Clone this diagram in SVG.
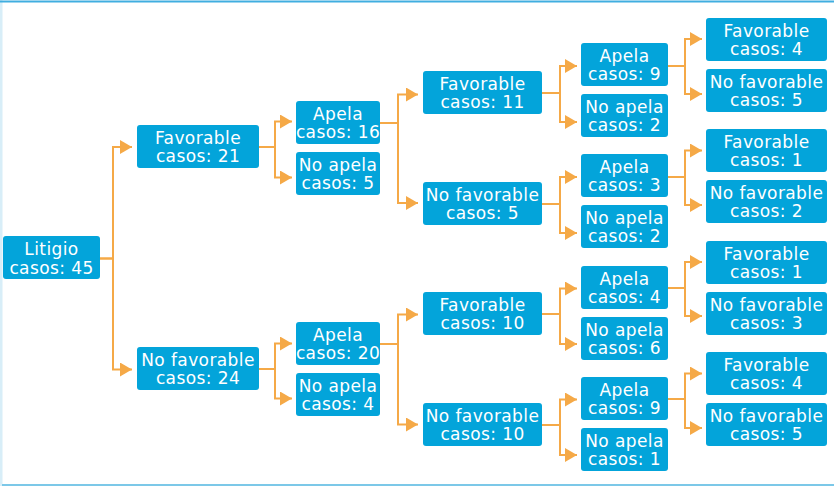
<svg xmlns="http://www.w3.org/2000/svg" width="834" height="486" viewBox="0 0 834 486">
<style>
.box{fill:#03a4da;}
.t{font-family:"DejaVu Sans",sans-serif;font-size:17px;fill:#ffffff;text-anchor:middle;letter-spacing:0.4px;}
.c{fill:none;stroke:#f5a947;stroke-width:2;marker-end:url(#ah);}
</style>
<defs>
<marker id="ah" viewBox="0 0 12 14" refX="12" refY="7" markerUnits="userSpaceOnUse" markerWidth="12" markerHeight="14" orient="auto">
<path d="M0,0 L12,7 L0,14 z" fill="#f5a947"/>
</marker>
</defs>
<rect x="0" y="0" width="834" height="486" fill="#ffffff"/>
<rect x="0" y="0" width="2.5" height="486" fill="#d8eef8"/>
<rect x="0" y="0.5" width="834" height="2" fill="#40aee0"/>
<rect x="2" y="484" width="832" height="2" fill="#7cc8e8"/>

<g id="connectors">
<path class="c" d="M100,258.5 H113 V147 H132"/>
<path class="c" d="M100,258.5 H113 V369.5 H132"/>
<path class="c" d="M259,147 H275 V121.5 H292"/>
<path class="c" d="M259,147 H275 V177.5 H292"/>
<path class="c" d="M259,369 H275 V343.5 H292"/>
<path class="c" d="M259,369 H275 V398.5 H292"/>
<path class="c" d="M380,123 H398 V94.5 H418"/>
<path class="c" d="M380,123 H398 V203 H418"/>
<path class="c" d="M380,344 H398 V314.5 H418"/>
<path class="c" d="M380,344 H398 V424.5 H418"/>
<path class="c" d="M542,93 H560 V66 H577"/>
<path class="c" d="M542,93 H560 V122 H577"/>
<path class="c" d="M542,204 H560 V177 H577"/>
<path class="c" d="M542,204 H560 V233 H577"/>
<path class="c" d="M542,314 H560 V288.5 H577"/>
<path class="c" d="M542,314 H560 V344 H577"/>
<path class="c" d="M542,425 H560 V399.5 H577"/>
<path class="c" d="M542,425 H560 V455 H577"/>
<path class="c" d="M668,66 H685 V39 H702"/>
<path class="c" d="M668,66 H685 V94 H702"/>
<path class="c" d="M668,177 H685 V150.5 H702"/>
<path class="c" d="M668,177 H685 V205 H702"/>
<path class="c" d="M668,288 H685 V262 H702"/>
<path class="c" d="M668,288 H685 V316 H702"/>
<path class="c" d="M668,399 H685 V373.5 H702"/>
<path class="c" d="M668,399 H685 V428 H702"/>
</g>

<g id="n0"><rect class="box" x="3" y="236" width="97" height="43" rx="3"/><text class="t" x="51.5" y="255">Litigio</text><text class="t" x="51.5" y="273.5">casos: 45</text></g>

<g id="n1"><rect class="box" x="137" y="125" width="122" height="43" rx="3"/><text class="t" x="198" y="143.5">Favorable</text><text class="t" x="198" y="162">casos: 21</text></g>
<g id="n2"><rect class="box" x="137" y="347" width="122" height="43" rx="3"/><text class="t" x="198" y="365.5">No favorable</text><text class="t" x="198" y="384">casos: 24</text></g>

<g id="n3"><rect class="box" x="296" y="101" width="84" height="43" rx="3"/><text class="t" x="338" y="119.5">Apela</text><text class="t" x="338" y="138">casos: 16</text></g>
<g id="n4"><rect class="box" x="296" y="152" width="84" height="43" rx="3"/><text class="t" x="338" y="170.5">No apela</text><text class="t" x="338" y="189">casos: 5</text></g>
<g id="n5"><rect class="box" x="296" y="322" width="84" height="43" rx="3"/><text class="t" x="338" y="340.5">Apela</text><text class="t" x="338" y="359">casos: 20</text></g>
<g id="n6"><rect class="box" x="296" y="373" width="84" height="43" rx="3"/><text class="t" x="338" y="391.5">No apela</text><text class="t" x="338" y="410">casos: 4</text></g>

<g id="n7"><rect class="box" x="423" y="71" width="119" height="43" rx="3"/><text class="t" x="482.5" y="89.5">Favorable</text><text class="t" x="482.5" y="108">casos: 11</text></g>
<g id="n8"><rect class="box" x="423" y="182" width="119" height="43" rx="3"/><text class="t" x="482.5" y="200.5">No favorable</text><text class="t" x="482.5" y="219">casos: 5</text></g>
<g id="n9"><rect class="box" x="423" y="292" width="119" height="43" rx="3"/><text class="t" x="482.5" y="310.5">Favorable</text><text class="t" x="482.5" y="329">casos: 10</text></g>
<g id="n10"><rect class="box" x="423" y="403" width="119" height="43" rx="3"/><text class="t" x="482.5" y="421.5">No favorable</text><text class="t" x="482.5" y="440">casos: 10</text></g>

<g id="n11"><rect class="box" x="581" y="43" width="87" height="43" rx="3"/><text class="t" x="624.5" y="61.5">Apela</text><text class="t" x="624.5" y="80">casos: 9</text></g>
<g id="n12"><rect class="box" x="581" y="94" width="87" height="43" rx="3"/><text class="t" x="624.5" y="112.5">No apela</text><text class="t" x="624.5" y="131">casos: 2</text></g>
<g id="n13"><rect class="box" x="581" y="154" width="87" height="43" rx="3"/><text class="t" x="624.5" y="172.5">Apela</text><text class="t" x="624.5" y="191">casos: 3</text></g>
<g id="n14"><rect class="box" x="581" y="205" width="87" height="43" rx="3"/><text class="t" x="624.5" y="223.5">No apela</text><text class="t" x="624.5" y="242">casos: 2</text></g>
<g id="n15"><rect class="box" x="581" y="266" width="87" height="43" rx="3"/><text class="t" x="624.5" y="284.5">Apela</text><text class="t" x="624.5" y="303">casos: 4</text></g>
<g id="n16"><rect class="box" x="581" y="317" width="87" height="43" rx="3"/><text class="t" x="624.5" y="335.5">No apela</text><text class="t" x="624.5" y="354">casos: 6</text></g>
<g id="n17"><rect class="box" x="581" y="377" width="87" height="43" rx="3"/><text class="t" x="624.5" y="395.5">Apela</text><text class="t" x="624.5" y="414">casos: 9</text></g>
<g id="n18"><rect class="box" x="581" y="428" width="87" height="43" rx="3"/><text class="t" x="624.5" y="446.5">No apela</text><text class="t" x="624.5" y="465">casos: 1</text></g>

<g id="n19"><rect class="box" x="706" y="18" width="121" height="43" rx="3"/><text class="t" x="766.5" y="36.5">Favorable</text><text class="t" x="766.5" y="55">casos: 4</text></g>
<g id="n20"><rect class="box" x="706" y="69" width="121" height="43" rx="3"/><text class="t" x="766.5" y="87.5">No favorable</text><text class="t" x="766.5" y="106">casos: 5</text></g>
<g id="n21"><rect class="box" x="706" y="129" width="121" height="43" rx="3"/><text class="t" x="766.5" y="147.5">Favorable</text><text class="t" x="766.5" y="166">casos: 1</text></g>
<g id="n22"><rect class="box" x="706" y="180" width="121" height="43" rx="3"/><text class="t" x="766.5" y="198.5">No favorable</text><text class="t" x="766.5" y="217">casos: 2</text></g>
<g id="n23"><rect class="box" x="706" y="241" width="121" height="43" rx="3"/><text class="t" x="766.5" y="259.5">Favorable</text><text class="t" x="766.5" y="278">casos: 1</text></g>
<g id="n24"><rect class="box" x="706" y="292" width="121" height="43" rx="3"/><text class="t" x="766.5" y="310.5">No favorable</text><text class="t" x="766.5" y="329">casos: 3</text></g>
<g id="n25"><rect class="box" x="706" y="352" width="121" height="43" rx="3"/><text class="t" x="766.5" y="370.5">Favorable</text><text class="t" x="766.5" y="389">casos: 4</text></g>
<g id="n26"><rect class="box" x="706" y="403" width="121" height="43" rx="3"/><text class="t" x="766.5" y="421.5">No favorable</text><text class="t" x="766.5" y="440">casos: 5</text></g>
</svg>
